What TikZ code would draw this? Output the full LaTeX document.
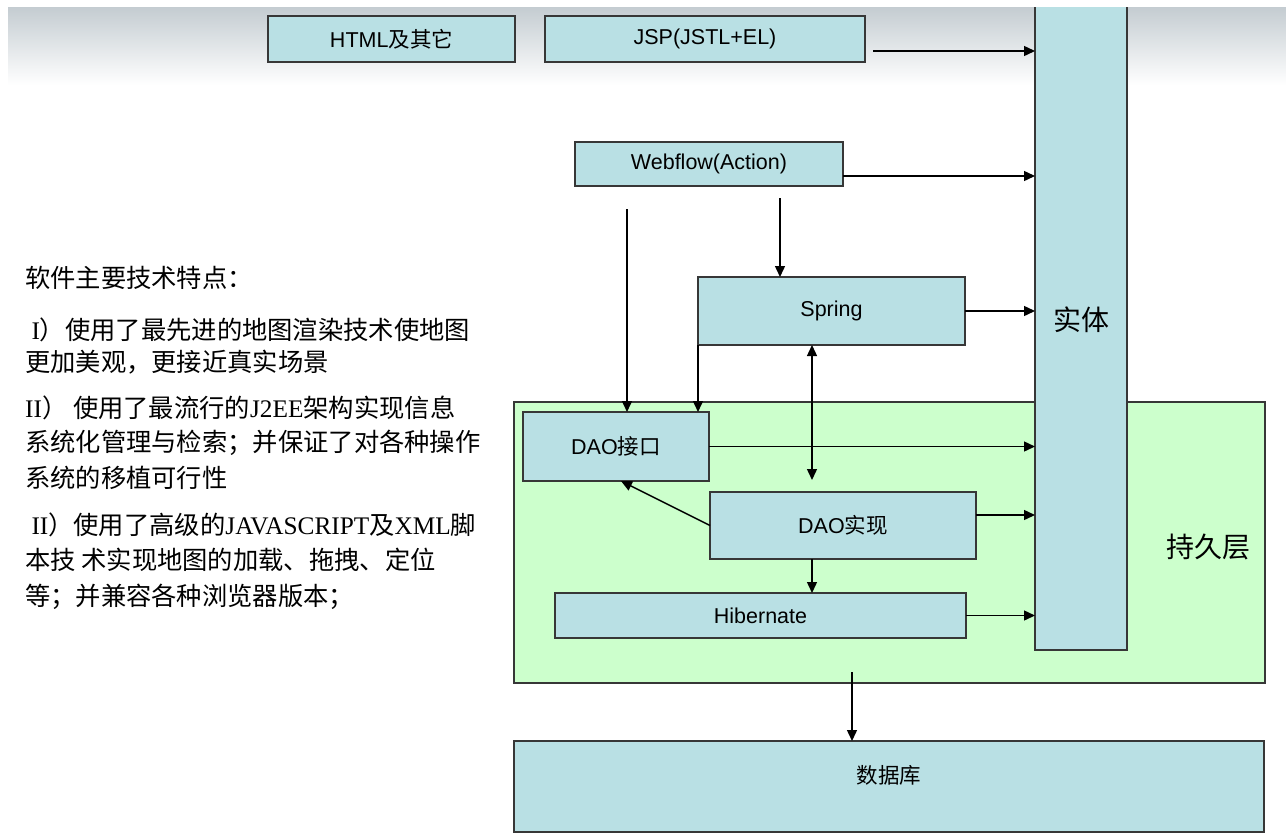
\documentclass[tikz,border=0pt]{standalone}
\usepackage{fontspec}
\setmainfont{Liberation Sans}
\newfontfamily\cjk{Noto Sans CJK SC}
\newfontfamily\latserif{Liberation Serif}
\usetikzlibrary{arrows.meta}
\definecolor{boxfill}{RGB}{185,224,228}
\definecolor{greenfill}{RGB}{204,255,204}
\definecolor{bordercol}{RGB}{55,55,55}
\definecolor{topgray}{RGB}{196,204,209}
\begin{document}
\begin{tikzpicture}[x=1pt,y=-1pt,
  box/.style={draw=bordercol, line width=1.4pt, fill=boxfill, inner sep=0pt, outer sep=0pt, font=\fontsize{21.5}{25}\selectfont},
  arr/.style={line width=1.4pt, -{Triangle[length=11pt,width=10pt]}},
  dblarr/.style={line width=1.4pt, {Triangle[length=11pt,width=10pt]}-{Triangle[length=11pt,width=10pt]}},
  lefttext/.style={anchor=west, inner sep=0pt, font=\fontsize{25.3}{29}\selectfont\cjk},
  bigcjk/.style={font=\fontsize{28}{32}\selectfont\cjk, inner sep=0pt}
]
\useasboundingbox (0,0) rectangle (1286,836);
\fill[white] (0,0) rectangle (1286,836);
\shade[top color=topgray, bottom color=white] (8,7) rectangle (1286,85);

% persistence layer
\node[box, fill=greenfill, minimum width=751pt, minimum height=281pt] (green) at (889.5,542.5) {};
\node[bigcjk] (pers) at (1208,547) {持久层};

% entity column
\node[box, minimum width=92pt, minimum height=660pt, font=\fontsize{28}{32}\selectfont\cjk] (ent) at (1081,320) {实体};

% boxes
\node[box, minimum width=247pt, minimum height=46pt] (html) at (391.5,39) {HTML{\cjk 及其它}};
\node[box, minimum width=320pt, minimum height=46pt] (jsp) at (705,39) {JSP(JSTL+EL)};
\node[box, minimum width=268pt, minimum height=44pt] (web) at (709,164) {Webflow(Action)};
\node[box, minimum width=267pt, minimum height=68pt] (spring) at (831.5,311) {Spring};
\node[box, minimum width=186pt, minimum height=69pt] (daoi) at (616,446.5) {DAO{\cjk 接口}};
\node[box, minimum width=266pt, minimum height=67pt] (daoimpl) at (843,525.5) {DAO{\cjk 实现}};
\node[box, minimum width=411pt, minimum height=45pt] (hib) at (760.5,615.5) {Hibernate};
\node[box, minimum width=750pt, minimum height=91pt] (db) at (889,786.5) {};
\node[font=\fontsize{21.5}{25}\selectfont\cjk, inner sep=0pt] (dbl) at (889,775) {数据库};

% connectors
\coordinate (jspout) at (873,51);
\draw[arr] (jspout) -- (jspout -| ent.west);
\coordinate (webout) at (843,176);
\draw[arr] (webout) -- (webout -| ent.west);
\coordinate (wl) at (627,209);
\draw[arr] (wl) -- (wl |- daoi.north);
\coordinate (wr) at (780,198);
\draw[arr] (wr) -- (wr |- spring.north);
\draw[arr] (spring.east) -- (spring.east -| ent.west);
\draw[arr] (spring.south west) -- (spring.south west |- daoi.north);
\coordinate (dtop) at (812,480);
\draw[dblarr] (dtop |- spring.south) -- (dtop);
\draw[arr] (daoi.east) -- (daoi.east -| ent.west);
\coordinate (diout) at (976,515);
\draw[arr] (diout) -- (diout -| ent.west);
\draw[arr] (daoimpl.west) -- ([xshift=5pt]daoi.south);
\draw[arr] (dtop |- daoimpl.south) -- (dtop |- hib.north);
\draw[arr] (hib.east) -- (hib.east -| ent.west);
\coordinate (gout) at (852,672);
\draw[arr] (gout) -- (gout |- db.north);

% top white strip
\fill[white] (0,0) rectangle (1286,7);

% left text
\node[lefttext] (t0) at (25,278) {软件主要技术特点：};
\node[lefttext] (t1) at (25,330) {{\latserif ~I}）使用了最先进的地图渲染技术使地图};
\node[lefttext] (t2) at (25,362) {更加美观，更接近真实场景};
\node[lefttext] (t3) at (25,408) {{\latserif II}） 使用了最流行的{\latserif J2EE}架构实现信息};
\node[lefttext] (t4) at (25,443) {系统化管理与检索；并保证了对各种操作};
\node[lefttext] (t5) at (25,478) {系统的移植可行性};
\node[lefttext] (t6) at (25,525) {{\latserif ~II}）使用了高级的{\latserif JAVASCRIPT}及{\latserif XML}脚};
\node[lefttext] (t7) at (25,560) {本技 术实现地图的加载、拖拽、定位};
\node[lefttext] (t8) at (25,597) {等；并兼容各种浏览器版本；};
\end{tikzpicture}
\end{document}
